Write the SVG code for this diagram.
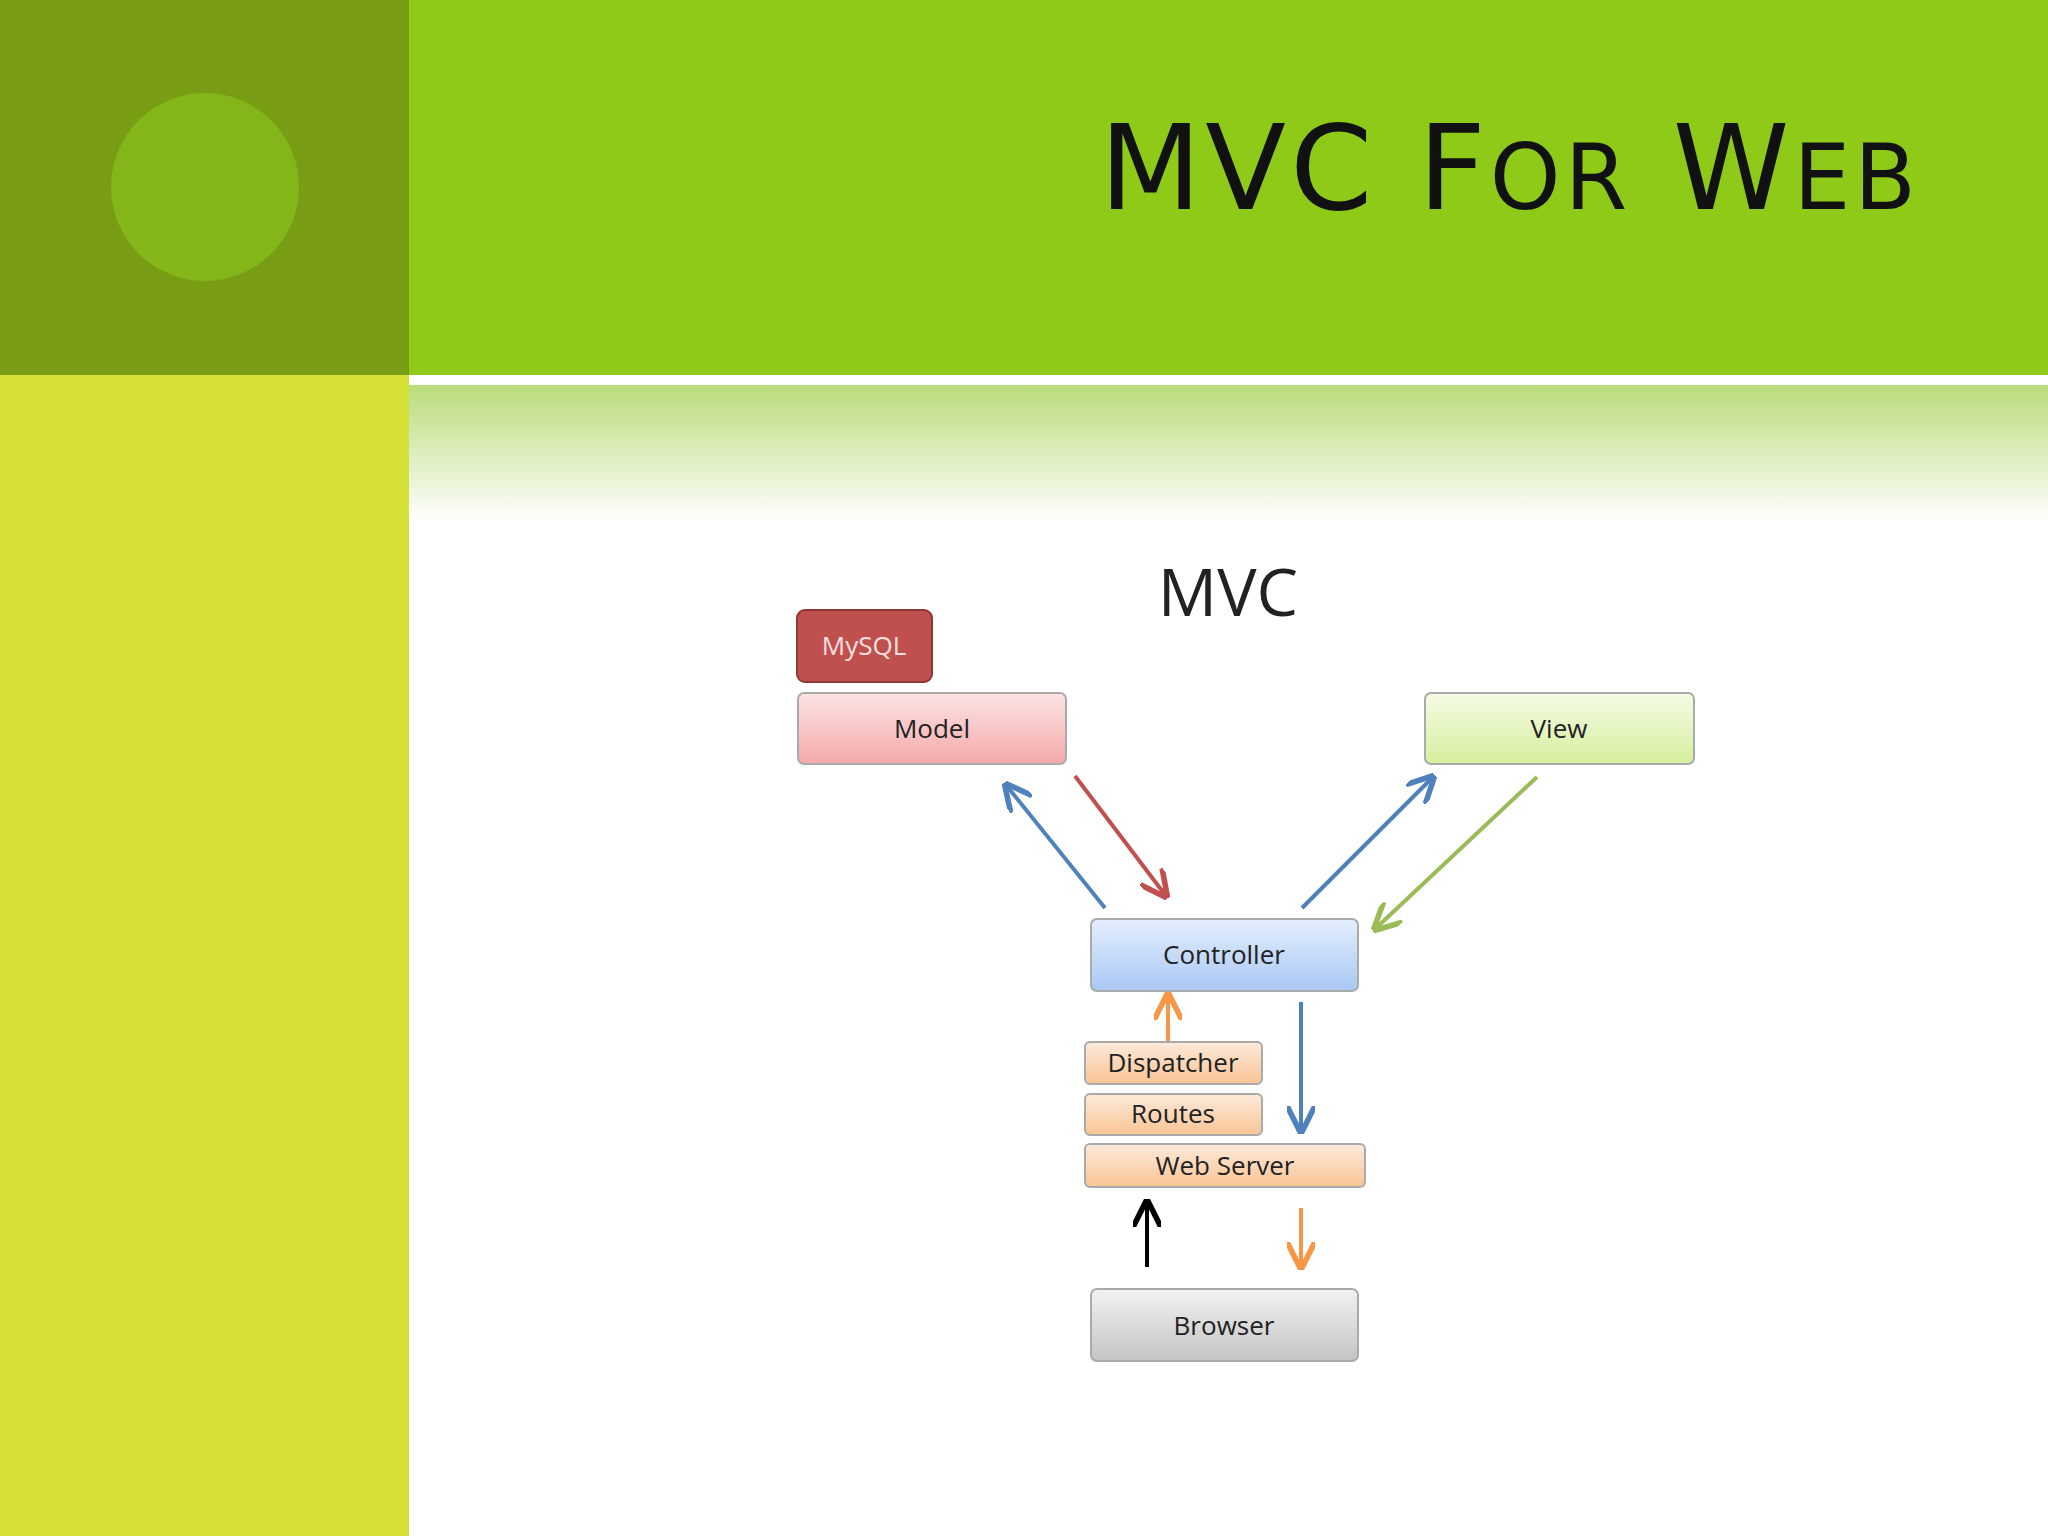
<svg xmlns="http://www.w3.org/2000/svg" width="2048" height="1536" viewBox="0 0 2048 1536">
<defs>
<linearGradient id="fade" x1="0" y1="0" x2="0" y2="1"><stop offset="0" stop-color="#b9dc7a"/><stop offset="1" stop-color="#ffffff"/></linearGradient>
<linearGradient id="gModel" x1="0" y1="0" x2="0" y2="1"><stop offset="0" stop-color="#fde3e3"/><stop offset="1" stop-color="#f4a9aa"/></linearGradient>
<linearGradient id="gView" x1="0" y1="0" x2="0" y2="1"><stop offset="0" stop-color="#f4fbe4"/><stop offset="1" stop-color="#d6ef9e"/></linearGradient>
<linearGradient id="gCtrl" x1="0" y1="0" x2="0" y2="1"><stop offset="0" stop-color="#e4effd"/><stop offset="1" stop-color="#a9c8f4"/></linearGradient>
<linearGradient id="gOr" x1="0" y1="0" x2="0" y2="1"><stop offset="0" stop-color="#fdeadb"/><stop offset="1" stop-color="#f9c494"/></linearGradient>
<linearGradient id="gGray" x1="0" y1="0" x2="0" y2="1"><stop offset="0" stop-color="#f2f2f2"/><stop offset="1" stop-color="#c4c4c4"/></linearGradient>
<marker id="ab" viewBox="0 0 10 10" refX="9" refY="5" markerWidth="7" markerHeight="7" orient="auto"><path d="M0,0 L10,5 L0,10" fill="none" stroke="#4f81bd" stroke-width="2"/></marker>
<marker id="ar" viewBox="0 0 10 10" refX="9" refY="5" markerWidth="7" markerHeight="7" orient="auto"><path d="M0,0 L10,5 L0,10" fill="none" stroke="#c0504d" stroke-width="2"/></marker>
<marker id="ag" viewBox="0 0 10 10" refX="9" refY="5" markerWidth="7" markerHeight="7" orient="auto"><path d="M0,0 L10,5 L0,10" fill="none" stroke="#9bbb59" stroke-width="2"/></marker>
<marker id="ao" viewBox="0 0 10 10" refX="9" refY="5" markerWidth="7" markerHeight="7" orient="auto"><path d="M0,0 L10,5 L0,10" fill="none" stroke="#f79646" stroke-width="2"/></marker>
<marker id="ak" viewBox="0 0 10 10" refX="9" refY="5" markerWidth="7" markerHeight="7" orient="auto"><path d="M0,0 L10,5 L0,10" fill="none" stroke="#000" stroke-width="2"/></marker>
</defs>
<style>
.lbl{font-family:"Open Sans","DejaVu Sans",sans-serif;font-size:26px;fill:#222;text-anchor:middle}
.box{stroke:#aaa;stroke-width:2}
.c{fill:none;stroke-width:4}
</style>
<rect width="2048" height="1536" fill="#fff"/>
<rect x="0" y="0" width="409" height="375" fill="#789d14"/>
<rect x="409" y="0" width="1639" height="375" fill="#8fca19"/>
<rect x="0" y="375" width="409" height="1161" fill="#d4e035"/>
<rect x="409" y="385" width="1639" height="137" fill="url(#fade)"/>
<circle cx="205" cy="187" r="94" fill="#84b519"/>
<text x="1920" y="209" text-anchor="end" font-family="'DejaVu Sans',sans-serif" font-size="118" fill="#111" letter-spacing="4">MVC F<tspan font-size="90">OR</tspan> W<tspan font-size="90">EB</tspan></text>
<text x="1228" y="616" text-anchor="middle" font-family="'Open Sans',sans-serif" font-size="66" fill="#222">MVC</text>
<g id="mysql"><rect x="797" y="610" width="135" height="72" rx="8" fill="#c0504d" stroke="#8c3836" stroke-width="2"/><text x="864" y="655" class="lbl" style="fill:#fbe0e0">MySQL</text></g>
<g id="model"><rect class="box" x="798" y="693" width="268" height="71" rx="6" fill="url(#gModel)"/><text x="932" y="738" class="lbl">Model</text></g>
<g id="view"><rect class="box" x="1425" y="693" width="269" height="71" rx="6" fill="url(#gView)"/><text x="1559" y="738" class="lbl">View</text></g>
<g id="controller"><rect class="box" x="1091" y="919" width="267" height="72" rx="6" fill="url(#gCtrl)"/><text x="1224" y="964" class="lbl">Controller</text></g>
<g id="dispatcher"><rect class="box" x="1085" y="1042" width="177" height="42" rx="5" fill="url(#gOr)"/><text x="1173" y="1072" class="lbl">Dispatcher</text></g>
<g id="routes"><rect class="box" x="1085" y="1094" width="177" height="41" rx="5" fill="url(#gOr)"/><text x="1173" y="1123" class="lbl">Routes</text></g>
<g id="webserver"><rect class="box" x="1085" y="1144" width="280" height="43" rx="5" fill="url(#gOr)"/><text x="1225" y="1175" class="lbl">Web Server</text></g>
<g id="browser"><rect class="box" x="1091" y="1289" width="267" height="72" rx="6" fill="url(#gGray)" stroke="#777"/><text x="1224" y="1335" class="lbl">Browser</text></g>
<g id="connectors">
<line class="c" x1="1105" y1="908" x2="1006" y2="785" stroke="#4f81bd" marker-end="url(#ab)"/>
<line class="c" x1="1075" y1="776" x2="1166" y2="896" stroke="#c0504d" marker-end="url(#ar)"/>
<line class="c" x1="1302" y1="908" x2="1433" y2="777" stroke="#4f81bd" marker-end="url(#ab)"/>
<line class="c" x1="1537" y1="777" x2="1375" y2="929" stroke="#9bbb59" marker-end="url(#ag)"/>
<line class="c" x1="1168" y1="1041" x2="1168" y2="995" stroke="#f79646" marker-end="url(#ao)"/>
<line class="c" x1="1301" y1="1002" x2="1301" y2="1131" stroke="#4f81bd" marker-end="url(#ab)"/>
<line class="c" x1="1147" y1="1267" x2="1147" y2="1202" stroke="#000" marker-end="url(#ak)"/>
<line class="c" x1="1301" y1="1208" x2="1301" y2="1267" stroke="#f79646" marker-end="url(#ao)"/>
</g>
</svg>
